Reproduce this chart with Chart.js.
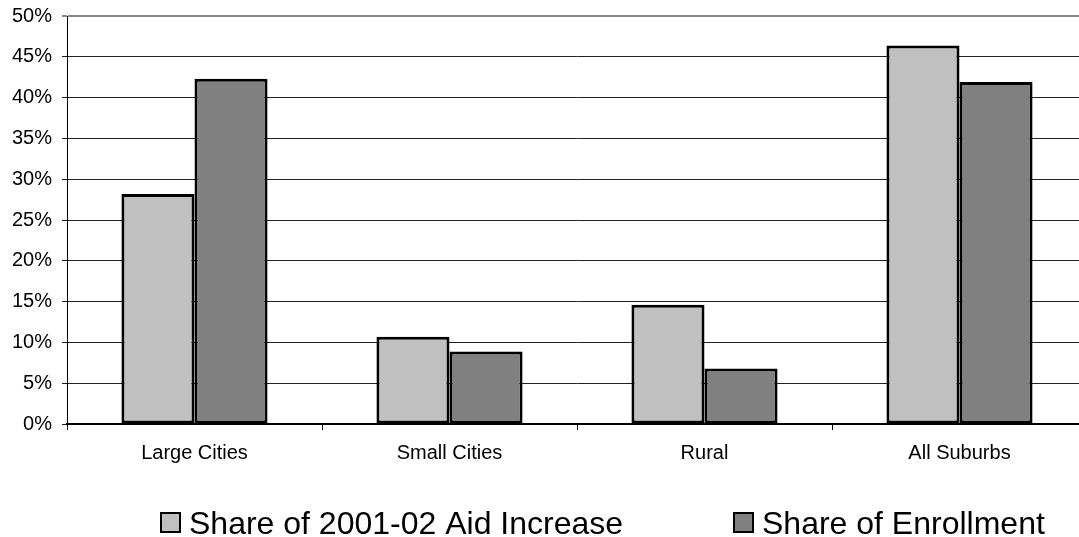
<!DOCTYPE html>
<html>
<head>
<meta charset="utf-8">
<script src="https://cdn.jsdelivr.net/npm/chart.js@4"></script>
<style>
  html, body { margin: 0; padding: 0; background: #fff; overflow: hidden; }
  #wrap { width: 1095px; height: 537px; }
</style>
</head>
<body>
<div id="wrap"><canvas id="chart" width="1095" height="537"></canvas></div>
<script>
const categories = ['Large Cities', 'Small Cities', 'Rural', 'All Suburbs'];
const aidShare = [28.2, 10.7, 14.6, 46.4];
const enrollmentShare = [42.3, 8.9, 6.8, 41.9];
const seriesNames = ['Share of 2001-02 Aid Increase', 'Share of Enrollment'];
const yTicks = [0, 5, 10, 15, 20, 25, 30, 35, 40, 45, 50];

const FONT = '"Liberation Sans", Arial, sans-serif';

// legend drawn by hand so the two items sit where the original puts them
const bottomLegend = {
  id: 'bottomLegend',
  afterDraw(chart) {
    const ctx = chart.ctx;
    const starts = [160, 733];
    const y = 512, box = 21;
    ctx.save();
    chart.data.datasets.forEach((ds, i) => {
      const x = starts[i];
      ctx.fillStyle = ds.backgroundColor;
      ctx.fillRect(x, y, box, box);
      ctx.lineWidth = 2;
      ctx.strokeStyle = '#000';
      ctx.strokeRect(x + 1, y + 1, box - 2, box - 2);
      ctx.fillStyle = '#000';
      ctx.font = '32px ' + FONT;
      ctx.textBaseline = 'alphabetic';
      ctx.fillText(ds.label, x + box + 8, y + box + 1);
    });
    ctx.restore();
  }
};

new Chart(document.getElementById('chart'), {
  type: 'bar',
  data: {
    labels: categories,
    datasets: [
      {
        label: seriesNames[0],
        data: aidShare,
        backgroundColor: '#C0C0C0',
        borderColor: '#000',
        borderWidth: 3,
        borderSkipped: false
      },
      {
        label: seriesNames[1],
        data: enrollmentShare,
        backgroundColor: '#808080',
        borderColor: '#000',
        borderWidth: 3,
        borderSkipped: false
      }
    ]
  },
  options: {
    responsive: false,
    animation: false,
    layout: { padding: { top: 16, right: 8, bottom: 0, left: 0 } },
    datasets: {
      bar: { categoryPercentage: 0.573, barPercentage: 1.0 }
    },
    plugins: {
      legend: { display: false },
      tooltip: { enabled: false }
    },
    scales: {
      x: {
        afterFit(scale) {
          scale.height = 113;
          scale.paddingLeft = 0;
          scale.paddingRight = 0;
        },
        grid: {
          offset: true,
          drawOnChartArea: false,
          tickLength: 6,
          color: '#000'
        },
        border: { color: '#000', width: 2 },
        ticks: {
          color: '#000',
          padding: 11,
          font: { family: FONT, size: 20 }
        }
      },
      y: {
        min: 0,
        max: 50,
        afterFit(scale) {
          scale.width = 67;
          scale.paddingTop = 0;
          scale.paddingBottom = 0;
        },
        afterBuildTicks(scale) { scale.ticks = yTicks.map(v => ({ value: v })); },
        grid: {
          tickLength: 5,
          color: ctx => ctx.tick && ctx.tick.value === 50 ? '#888' : '#222',
          lineWidth: ctx => ctx.tick && ctx.tick.value === 50 ? 2 : 1
        },
        border: { color: '#000', width: 1 },
        ticks: {
          color: '#000',
          padding: 10,
          font: { family: FONT, size: 20 },
          callback: v => v + '%'
        }
      }
    }
  },
  plugins: [bottomLegend]
});
</script>
</body>
</html>
